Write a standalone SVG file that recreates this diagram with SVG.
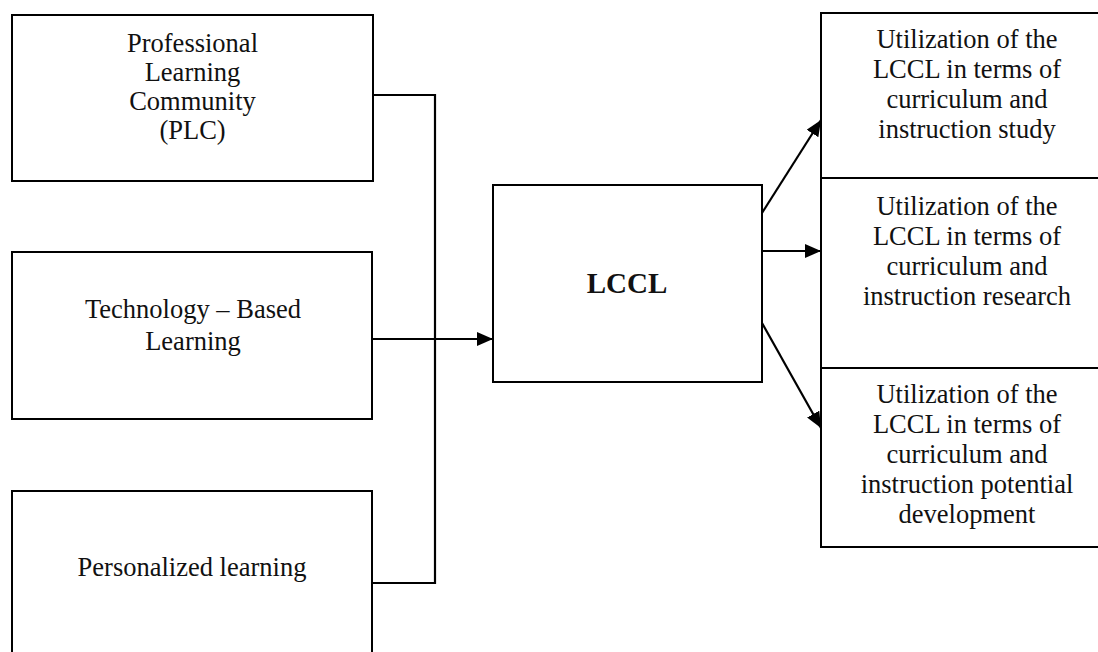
<svg xmlns="http://www.w3.org/2000/svg" width="1098" height="652" viewBox="0 0 1098 652">
<style>
.box{fill:#fff;stroke:#000;stroke-width:2}
.t{font-family:"Liberation Serif","Times New Roman",serif;font-size:26.5px;fill:#111;text-anchor:middle}
.b{font-family:"Liberation Serif","Times New Roman",serif;font-size:29px;font-weight:bold;fill:#111;text-anchor:middle}
.c{fill:none;stroke:#000;stroke-width:2.2}
</style>
<defs>
<marker id="ah" viewBox="0 0 16 14" refX="16" refY="7" markerWidth="16" markerHeight="14" markerUnits="userSpaceOnUse" orient="auto">
<path d="M0,0 L16,7 L0,14 Z" fill="#000"/>
</marker>
</defs>
<rect width="1098" height="652" fill="#fff"/>
<g id="plc">
<rect class="box" x="12" y="15" width="361" height="166"/>
<text class="t" x="192.5" y="52">Professional</text>
<text class="t" x="192.5" y="81">Learning</text>
<text class="t" x="192.5" y="110">Community</text>
<text class="t" x="192.5" y="139">(PLC)</text>
</g>
<g id="tbl">
<rect class="box" x="12" y="252" width="360" height="167"/>
<text class="t" x="193" y="318">Technology – Based</text>
<text class="t" x="193" y="350">Learning</text>
</g>
<g id="pl">
<rect class="box" x="12" y="491" width="360" height="180"/>
<text class="t" x="192" y="576">Personalized learning</text>
</g>
<g id="lccl">
<rect class="box" x="493" y="185" width="269" height="197"/>
<text class="b" x="627" y="293">LCCL</text>
</g>
<g id="study">
<rect class="box" x="821" y="13" width="292" height="165"/>
<text class="t" x="967" y="48">Utilization of the</text>
<text class="t" x="967" y="78">LCCL in terms of</text>
<text class="t" x="967" y="108">curriculum and</text>
<text class="t" x="967" y="138">instruction study</text>
</g>
<g id="research">
<rect class="box" x="821" y="178" width="292" height="190"/>
<text class="t" x="967" y="215">Utilization of the</text>
<text class="t" x="967" y="245">LCCL in terms of</text>
<text class="t" x="967" y="275">curriculum and</text>
<text class="t" x="967" y="305">instruction research</text>
</g>
<g id="potential">
<rect class="box" x="821" y="368" width="292" height="179"/>
<text class="t" x="967" y="403">Utilization of the</text>
<text class="t" x="967" y="433">LCCL in terms of</text>
<text class="t" x="967" y="463">curriculum and</text>
<text class="t" x="967" y="493">instruction potential</text>
<text class="t" x="967" y="523">development</text>
</g>
<g id="connectors">
<polyline class="c" points="373,95 435,95 435,583 372,583"/>
<line class="c" x1="372" y1="339" x2="493" y2="339" marker-end="url(#ah)"/>
<line class="c" x1="762" y1="213" x2="821" y2="120" marker-end="url(#ah)"/>
<line class="c" x1="762" y1="251" x2="821" y2="251" marker-end="url(#ah)"/>
<line class="c" x1="762" y1="323" x2="821" y2="428" marker-end="url(#ah)"/>
</g>
</svg>
